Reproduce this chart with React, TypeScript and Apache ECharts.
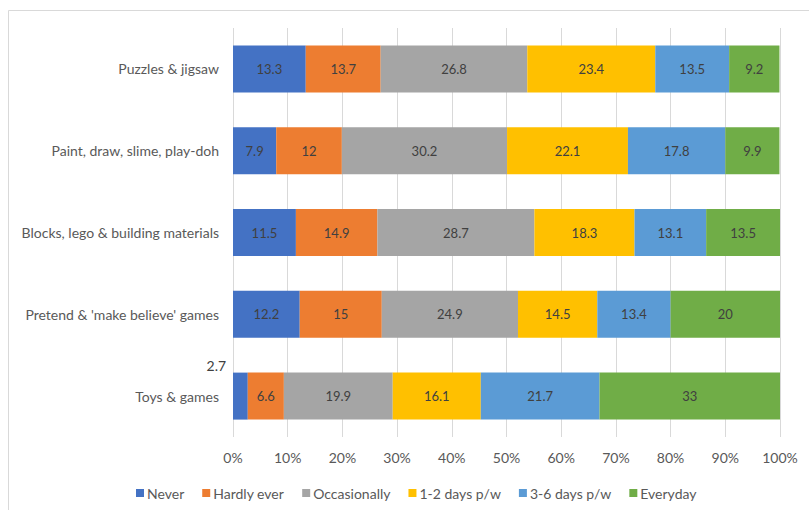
import React, { useEffect, useRef } from "react";
import * as echarts from "echarts";

const categories = [
  "Toys & games",
  "Pretend & 'make believe' games",
  "Blocks, lego & building materials",
  "Paint, draw, slime, play-doh",
  "Puzzles & jigsaw",
];
const seriesNames = ["Never", "Hardly ever", "Occasionally", "1-2 days p/w", "3-6 days p/w", "Everyday"];
const colors = ["#4472C4", "#ED7D31", "#A5A5A5", "#FFC000", "#5B9BD5", "#70AD47"];
const never = [2.7, 12.2, 11.5, 7.9, 13.3];
const hardlyEver = [6.6, 15, 14.9, 12, 13.7];
const occasionally = [19.9, 24.9, 28.7, 30.2, 26.8];
const oneTwoDays = [16.1, 14.5, 18.3, 22.1, 23.4];
const threeSixDays = [21.7, 13.4, 13.1, 17.8, 13.5];
const everyday = [33, 20, 13.5, 9.9, 9.2];
const xTicks = [0, 10, 20, 30, 40, 50, 60, 70, 80, 90, 100];

const FONT = "Lato";

export default function App() {
  const ref = useRef<HTMLDivElement>(null);
  useEffect(() => {
    if (!ref.current) return;
    const chart = echarts.init(ref.current, null, { renderer: "svg" });
    const allData = [never, hardlyEver, occasionally, oneTwoDays, threeSixDays, everyday];
    const series = allData.map((d, si) => ({
      name: seriesNames[si],
      type: "bar",
      stack: "total",
      barWidth: 47,
      itemStyle: { color: colors[si] },
      label: {
        show: true,
        position: "inside",
        color: "#404040",
        fontFamily: FONT,
        fontSize: 13,
      },
      data: d.map((v, ci) =>
        si === 0 && ci === 0
          ? { value: v, label: { offset: [-24, -31], fontSize: 14 } }
          : v
      ),
    }));
    chart.setOption({
      animation: false,
      textStyle: { fontFamily: FONT },
      grid: { left: 233, right: 29, top: 28, bottom: 73, containLabel: false },
      xAxis: {
        type: "value",
        min: xTicks[0],
        max: xTicks[xTicks.length - 1],
        interval: 10,
        axisLine: { show: false },
        axisTick: { show: false },
        splitLine: { show: true, lineStyle: { color: "#D9D9D9", width: 1 } },
        axisLabel: {
          formatter: "{value}%",
          color: "#595959",
          fontFamily: FONT,
          fontSize: 14,
          margin: 13,
        },
      },
      yAxis: {
        type: "category",
        data: categories,
        axisLine: { show: false },
        axisTick: { show: false },
        axisLabel: { color: "#595959", fontFamily: FONT, fontSize: 14, margin: 14 },
      },
      legend: {
        data: seriesNames,
        left: 131,
        top: 481,
        itemWidth: 8,
        itemHeight: 8,
        itemGap: 18,
        icon: "rect",
        textStyle: { color: "#595959", fontFamily: FONT, fontSize: 14, padding: [0, 0, 0, -2] },
      },
      graphic: [
        { type: "line", shape: { x1: 8.5, y1: 10.5, x2: 809, y2: 10.5 }, style: { stroke: "#D9D9D9", lineWidth: 1 } },
        { type: "line", shape: { x1: 8.5, y1: 10.5, x2: 8.5, y2: 510 }, style: { stroke: "#D9D9D9", lineWidth: 1 } },
      ],
      series,
    });
    return () => chart.dispose();
  }, []);
  return <div ref={ref} style={{ width: 809, height: 510, position: "absolute", left: 0, top: 0 }} />;
}
